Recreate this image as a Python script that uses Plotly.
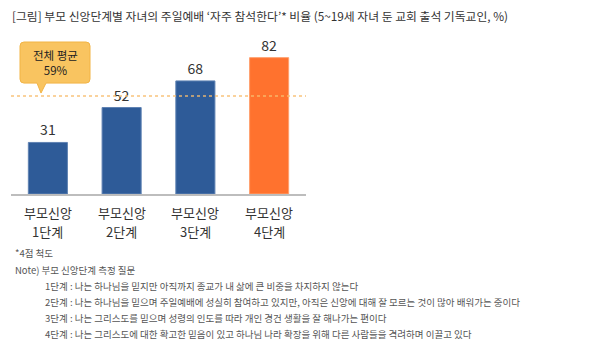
import plotly.graph_objects as go

# ---- data ----
cat_line1 = ["부모신앙", "부모신앙", "부모신앙", "부모신앙"]
cat_line2 = ["1단계", "2단계", "3단계", "4단계"]
values = [31, 52, 68, 82]
bar_colors = ["#2E5B98", "#2E5B98", "#2E5B98", "#FF722E"]
edge_colors = ["#5F82B3", "#5F82B3", "#5F82B3", "#FFA06E"]
avg_value = 59
avg_label = ["전체 평균", "59%"]
title_text = "[그림] 부모 신앙단계별 자녀의 주일예배 ‘자주 참석한다’* 비율 (5~19세 자녀 둔 교회 출석 기독교인, %)"
footnotes = [
    "*4점 척도",
    "Note) 부모 신앙단계 측정 질문",
]
stage_notes = [
    "1단계 : 나는 하나님을 믿지만 아직까지 종교가 내 삶에 큰 비중을 차지하지 않는다",
    "2단계 : 나는 하나님을 믿으며 주일예배에 성실히 참여하고 있지만, 아직은 신앙에 대해 잘 모르는 것이 많아 배워가는 중이다",
    "3단계 : 나는 그리스도를 믿으며 성령의 인도를 따라 개인 경건 생활을 잘 해나가는 편이다",
    "4단계 : 나는 그리스도에 대한 확고한 믿음이 있고 하나님 나라 확장을 위해 다른 사람들을 격려하며 이끌고 있다",
]

W, H = 615, 353
ML, MR, MT, MB = 11, 309, 41, 159
YMAX = 92
PW, PH = W - ML - MR, H - MT - MB
FONT = "Noto Sans CJK KR"


def px_to_paper(px, py):
    return (px - ML) / PW, (H - MB - py) / PH


xs = list(range(len(values)))

fig = go.Figure()
fig.add_trace(go.Bar(
    x=xs, y=values,
    marker=dict(color=bar_colors, line=dict(color=edge_colors, width=1)),
    width=0.53,
    text=[str(v) for v in values],
    textposition="outside",
    textfont=dict(size=14, color="#333333", family=FONT),
    cliponaxis=False,
    hoverinfo="skip",
))

# average dotted line
fig.add_shape(type="line", xref="x", yref="y", x0=-0.5, x1=3.5, y0=avg_value, y1=avg_value,
              line=dict(color="rgba(247,190,110,0.9)", width=1.5, dash="dot"), layer="above")

# callout box (relative to the average value)
upx = PW / 4.0          # px per category unit
upy = PH / YMAX         # px per value unit
bx0, bx1 = -0.5 + (20 - ML) / upx, -0.5 + (90 - ML) / upx
by0, by1 = avg_value + 7.7, avg_value + 32.4
tip_x, tip_y = -0.5 + (41 - ML) / upx, avg_value + 1.7
base0, base1 = -0.5 + (37 - ML) / upx, -0.5 + (46 - ML) / upx
rx, ry = 4 / upx, 4 / upy
path = (
    f"M {bx0+rx},{by1} L {bx1-rx},{by1} Q {bx1},{by1} {bx1},{by1-ry} "
    f"L {bx1},{by0+ry} Q {bx1},{by0} {bx1-rx},{by0} "
    f"L {base1},{by0} L {tip_x},{tip_y} L {base0},{by0} "
    f"L {bx0+rx},{by0} Q {bx0},{by0} {bx0},{by0+ry} "
    f"L {bx0},{by1-ry} Q {bx0},{by1} {bx0+rx},{by1} Z"
)
fig.add_shape(type="path", xref="x", yref="y", path=path,
              fillcolor="#F9C460", line=dict(color="#F2B445", width=1), layer="above")
cx = (bx0 + bx1) / 2
fig.add_annotation(x=cx, y=(by0 + by1) / 2, xref="x", yref="y", text="<br>".join(avg_label),
                   showarrow=False, font=dict(size=11.5, color="#222222", family=FONT),
                   yanchor="middle", align="center")

# category labels (two lines each, under the axis)
_, y1p = px_to_paper(0, 212)
_, y2p = px_to_paper(0, 231)
for xi, l1, l2 in zip(xs, cat_line1, cat_line2):
    fig.add_annotation(x=xi, y=y1p, xref="x", yref="paper", text=l1, showarrow=False,
                       yanchor="middle", font=dict(size=13, color="#333333", family=FONT))
    fig.add_annotation(x=xi, y=y2p, xref="x", yref="paper", text=l2, showarrow=False,
                       yanchor="middle", font=dict(size=13, color="#333333", family=FONT))

# title
tx, ty = px_to_paper(10, 16)
fig.add_annotation(x=tx, y=ty, xref="paper", yref="paper", text=title_text, showarrow=False,
                   xanchor="left", yanchor="middle", font=dict(size=11.8, color="#333333", family=FONT))

# footnotes
for txt, (px, py) in zip(footnotes, [(13, 253), (13, 270)]):
    ax_, ay_ = px_to_paper(px, py)
    fig.add_annotation(x=ax_, y=ay_, xref="paper", yref="paper", text=txt, showarrow=False,
                       xanchor="left", yanchor="middle", font=dict(size=9.5, color="#555555", family=FONT))
for i, txt in enumerate(stage_notes):
    ax_, ay_ = px_to_paper(43, 286 + i * 16)
    fig.add_annotation(x=ax_, y=ay_, xref="paper", yref="paper", text=txt, showarrow=False,
                       xanchor="left", yanchor="middle", font=dict(size=9.5, color="#555555", family=FONT))

fig.update_layout(
    width=W, height=H,
    margin=dict(l=ML, r=MR, t=MT, b=MB, pad=0),
    paper_bgcolor="white", plot_bgcolor="white",
    showlegend=False,
    font=dict(family=FONT, color="#333333"),
    xaxis=dict(range=[-0.5, 3.5], tickmode="array", tickvals=xs, showticklabels=False,
               showline=True, linecolor="#BDBDBD", linewidth=1.5, showgrid=False, zeroline=False,
               ticks=""),
    yaxis=dict(range=[0, YMAX], visible=False, showgrid=False, zeroline=False),
)

fig.write_html("out.html")
